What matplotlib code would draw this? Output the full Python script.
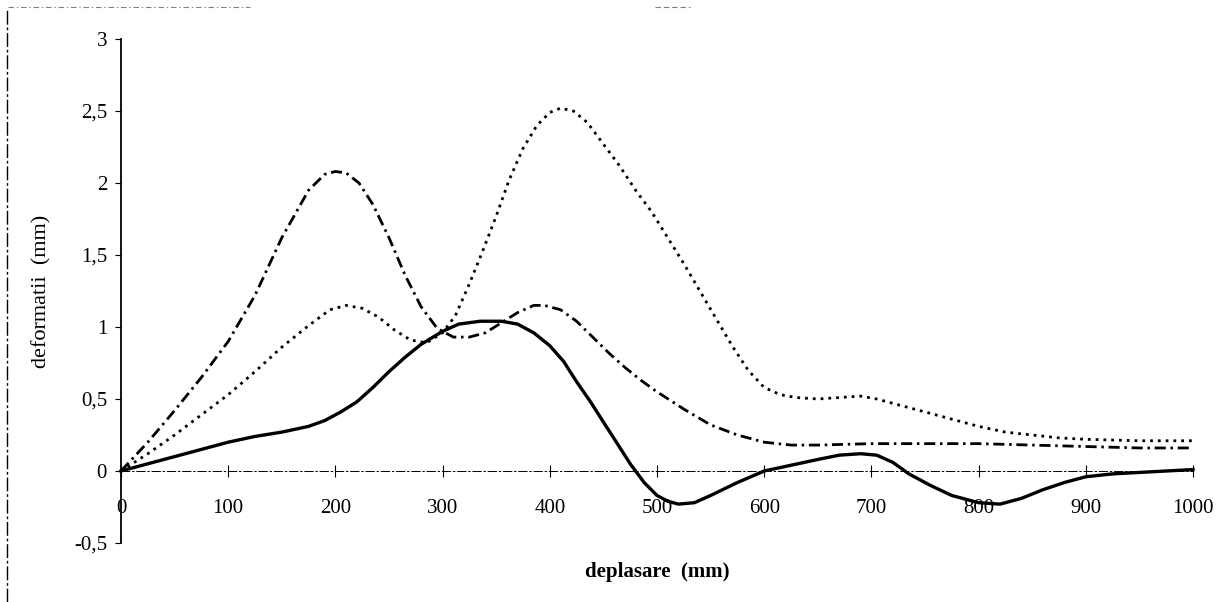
import matplotlib
matplotlib.use("Agg")
import matplotlib.pyplot as plt
from matplotlib.lines import Line2D

# valori
x_plin = [0, 25, 50, 75, 100, 125, 150, 175, 190, 205, 220, 235, 250, 265,
          280, 300, 315, 335, 355, 370, 385, 400, 413, 425, 438, 450, 463,
          475, 488, 500, 510, 520, 535, 550, 575, 600, 625, 650, 670, 690,
          705, 720, 735, 755, 775, 800, 820, 840, 860, 880, 900, 925, 950,
          975, 1000]
y_plin = [0, 0.05, 0.10, 0.15, 0.20, 0.24, 0.27, 0.31, 0.35, 0.41, 0.48,
          0.58, 0.69, 0.79, 0.88, 0.97, 1.02, 1.04, 1.04, 1.02, 0.96, 0.87,
          0.76, 0.62, 0.48, 0.34, 0.19, 0.05, -0.08, -0.17, -0.21, -0.23,
          -0.22, -0.17, -0.08, 0.0, 0.04, 0.08, 0.11, 0.12, 0.11, 0.06,
          -0.02, -0.10, -0.17, -0.22, -0.23, -0.19, -0.13, -0.08, -0.04,
          -0.02, -0.01, 0.0, 0.01]

x_linpct = [0, 25, 50, 75, 100, 125, 150, 175, 190, 200, 210, 222, 235, 250,
            265, 280, 295, 310, 325, 340, 355, 370, 385, 395, 410, 425, 440,
            455, 470, 485, 500, 525, 550, 575, 600, 625, 650, 700, 750, 800,
            850, 900, 950, 1000]
y_linpct = [0, 0.20, 0.42, 0.65, 0.90, 1.22, 1.62, 1.95, 2.06, 2.08, 2.07,
            2.00, 1.85, 1.62, 1.36, 1.14, 0.99, 0.93, 0.93, 0.96, 1.03, 1.10,
            1.15, 1.15, 1.12, 1.04, 0.93, 0.82, 0.72, 0.63, 0.55, 0.43, 0.32,
            0.25, 0.20, 0.18, 0.18, 0.19, 0.19, 0.19, 0.18, 0.17, 0.16, 0.16]

x_punct = [0, 25, 50, 75, 100, 125, 150, 175, 195, 210, 225, 240, 255, 270,
           285, 300, 312, 325, 337, 350, 362, 375, 388, 400, 410, 422, 435,
           450, 465, 480, 495, 510, 525, 540, 555, 570, 585, 600, 615, 630,
           650, 670, 690, 705, 720, 740, 760, 780, 800, 825, 850, 875, 900,
           950, 1000]
y_punct = [0, 0.12, 0.25, 0.39, 0.53, 0.69, 0.86, 1.01, 1.12, 1.15, 1.13,
           1.07, 0.98, 0.91, 0.89, 0.96, 1.08, 1.30, 1.52, 1.77, 2.02, 2.24,
           2.40, 2.49, 2.52, 2.50, 2.42, 2.27, 2.12, 1.95, 1.80, 1.62, 1.44,
           1.25, 1.06, 0.87, 0.70, 0.58, 0.53, 0.51, 0.50, 0.51, 0.52, 0.50,
           0.47, 0.43, 0.39, 0.35, 0.31, 0.27, 0.25, 0.23, 0.22, 0.21, 0.21]

x_ticks = [0, 100, 200, 300, 400, 500, 600, 700, 800, 900, 1000]
y_ticks = [-0.5, 0, 0.5, 1, 1.5, 2, 2.5, 3]
y_labels = ["-0,5", "0", "0,5", "1", "1,5", "2", "2,5", "3"]

plt.rcParams['font.family'] = ['Liberation Serif', 'DejaVu Serif']
plt.rcParams['lines.scale_dashes'] = False

fig = plt.figure(figsize=(12.27, 6.02), dpi=100)
ax = fig.add_axes([121/1227, 59/602, 1072/1227, 504/602])

ax.plot(x_punct, y_punct, color='black', lw=2.0, dashes=(2.0, 3.6),
        clip_on=False)
ax.plot(x_linpct, y_linpct, color='black', lw=2.0,
        dashes=(8, 3.4, 1.8, 3.4), clip_on=False)
ax.plot(x_plin, y_plin, color='black', lw=2.4, clip_on=False)

ax.set_xlim(0, 1000)
ax.set_ylim(-0.5, 3)

for s in ['top', 'right']:
    ax.spines[s].set_visible(False)
ax.spines['bottom'].set_position(('data', 0))
ax.spines['bottom'].set_linestyle((0, (6, 2, 1, 2)))
ax.spines['bottom'].set_linewidth(0.7)
ax.spines['left'].set_linewidth(1.3)

ax.set_xticks(x_ticks)
ax.set_xticklabels([str(v) for v in x_ticks])
ax.set_yticks(y_ticks)
ax.set_yticklabels(y_labels)
ax.tick_params(axis='x', direction='inout', length=8, width=0.8, pad=16,
               labelsize=15)
ax.tick_params(axis='y', direction='out', length=4, width=0.8, pad=6,
               labelsize=15)

ax.set_xlabel('deplasare  (mm)', fontsize=15, fontweight='bold', va='center')
ax.xaxis.set_label_coords(0.5, -0.058)
ax.set_ylabel('deformatii  (mm)', fontsize=16, va='center')
ax.yaxis.set_label_coords(-0.074, 0.5)

# ramele scanate de pe margine
fig.add_artist(Line2D([7/1227, 7/1227], [0, 1 - 10/602], color='black',
                      lw=1.0, linestyle=(0, (10, 2, 2, 2))))
fig.add_artist(Line2D([8/1227, 250/1227], [1 - 7/602, 1 - 7/602],
                      color='gray', lw=0.8, linestyle=(0, (4, 2, 1, 2))))
fig.add_artist(Line2D([655/1227, 690/1227], [1 - 7/602, 1 - 7/602],
                      color='gray', lw=0.8, linestyle=(0, (4, 2))))

fig.savefig('out.png', dpi=100)
